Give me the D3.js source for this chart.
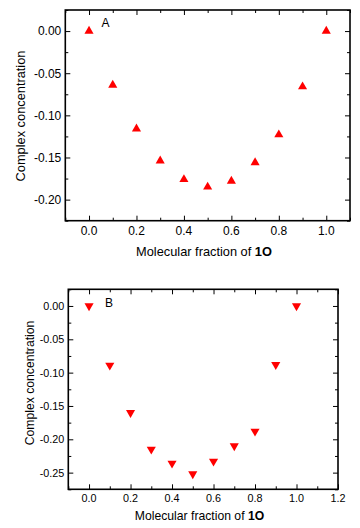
<!DOCTYPE html>
<html><head><meta charset="utf-8">
<script src="https://cdn.jsdelivr.net/npm/d3@7"></script>
<style>body{margin:0;background:#fff}svg{display:block}text{font-family:"Liberation Sans",Arial,sans-serif;fill:#000}</style>
</head><body>
<svg id="c" width="360" height="528"></svg>
<script>
const fractions = [0.0,0.1,0.2,0.3,0.4,0.5,0.6,0.7,0.8,0.9,1.0];
const concA = [0.000,-0.064,-0.116,-0.154,-0.176,-0.185,-0.178,-0.156,-0.123,-0.066,0.000];
const concB = [0.000,-0.089,-0.160,-0.215,-0.236,-0.252,-0.233,-0.210,-0.188,-0.088,0.000];
const xTicksA = [0.0,0.2,0.4,0.6,0.8,1.0];
const yTicksA = [0.00,-0.05,-0.10,-0.15,-0.20];
const xTicksB = [0.0,0.2,0.4,0.6,0.8,1.0,1.2];
const yTicksB = [0.00,-0.05,-0.10,-0.15,-0.20,-0.25];

const svg = d3.select("#c");

function panel(o){
  const g = svg.append("g");
  const x = d3.scaleLinear().domain(o.xd).range([o.l,o.r]);
  const y = d3.scaleLinear().domain(o.yd).range([o.b,o.t]);
  const W = o.r-o.l, H = o.b-o.t;
  const xMinor = d3.range(o.xd[0], o.xd[1]+1e-9, 0.1).filter(v=>!o.xt.some(t=>Math.abs(t-v)<1e-6));
  const yMinor = d3.range(o.yt[o.yt.length-1]-0.025, o.yd[1]+1e-9, 0.025).filter(v=>v>=o.yd[0]-1e-9 && !o.yt.some(t=>Math.abs(t-v)<1e-6));
  const specs = [
    [d3.axisBottom, x, `translate(0,${o.b})`],
    [d3.axisTop, x, `translate(0,${o.t})`],
    [d3.axisLeft, y, `translate(${o.l},0)`],
    [d3.axisRight, y, `translate(${o.r},0)`]
  ];
  specs.forEach(([ax, sc, tr], i) => {
    const isX = i<2;
    const major = isX ? o.xt : o.yt;
    const minor = isX ? xMinor : yMinor;
    const a1 = g.append("g").attr("transform",tr).call(ax(sc).tickValues(major).tickSize(-5).tickFormat(""));
    const a2 = g.append("g").attr("transform",tr).call(ax(sc).tickValues(minor).tickSize(-3).tickFormat(""));
    [a1,a2].forEach(a=>{a.select(".domain").remove(); a.selectAll("line").attr("stroke","#000").attr("stroke-width",1);});
  });
  g.append("rect").attr("x",o.l).attr("y",o.t).attr("width",W).attr("height",H)
    .attr("fill","none").attr("stroke","#000").attr("stroke-width",1.6);
  g.selectAll(".xl").data(o.xt).join("text").attr("x",d=>x(d)).attr("y",o.b+o.xlo)
    .attr("text-anchor","middle").attr("font-size",o.fs).text(d=>d.toFixed(1));
  g.selectAll(".yl").data(o.yt).join("text").attr("x",o.l-4).attr("y",d=>y(d)+o.fs*0.36)
    .attr("text-anchor","end").attr("font-size",o.fs).text(d=>d.toFixed(2));
  g.append("text").attr("transform",`translate(${o.ylx},${o.yly}) rotate(-90)`)
    .attr("text-anchor","middle").attr("font-size",o.tfs).text("Complex concentration");
  const xt = g.append("text").attr("x",o.xlx).attr("y",o.xly).attr("text-anchor","middle").attr("font-size",o.tfs);
  xt.append("tspan").text("Molecular fraction of ");
  xt.append("tspan").attr("font-weight","bold").text("1O");
  g.append("text").attr("x",o.labx).attr("y",o.laby).attr("font-size",12).text(o.label);
  const sym = d3.symbol().type(d3.symbolTriangle).size(36);
  g.selectAll(".pt").data(fractions).join("path")
    .attr("d",sym)
    .attr("transform",(d,i)=>`translate(${x(d)},${y(o.vals[i])})${o.down?" rotate(180)":""}`)
    .attr("fill","#ff0000");
}

panel({xd:[-0.1,1.1], yd:[-0.225,0.025], l:65.3, r:350, t:10, b:220.7,
  xt:xTicksA, yt:yTicksA, vals:concA, down:false, fs:12, tfs:12.8, xlo:14.5,
  ylx:25, yly:116, xlx:204, xly:256, labx:101.5, laby:27, label:"A"});
panel({xd:[-0.1,1.2], yd:[-0.275,0.025], l:68.3, r:338, t:289.3, b:489.3,
  xt:xTicksB, yt:yTicksB, vals:concB, down:true, fs:10.8, tfs:12.2, xlo:13,
  ylx:33.5, yly:383, xlx:199.5, xly:520, labx:105, laby:307, label:"B"});
</script>
</body></html>
